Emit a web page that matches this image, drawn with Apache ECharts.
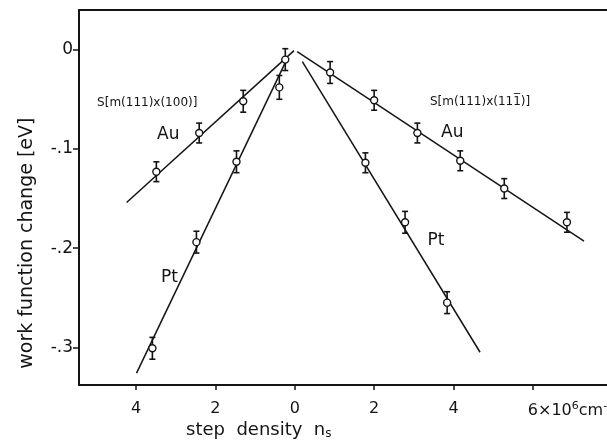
<!DOCTYPE html>
<html>
<head>
<meta charset="utf-8">
<script src="https://cdn.jsdelivr.net/npm/echarts@6/dist/echarts.min.js"></script>
<style>
  html, body { margin: 0; padding: 0; background: #fff; }
  #chart { width: 607px; height: 441px; }
</style>
</head>
<body>
<div id="chart"></div>
<script>
// step density (left side plotted as negative x), work function change [eV], error
const auLeft = [[-0.24, -0.010, 0.011], [-1.30, -0.052, 0.011], [-2.41, -0.084, 0.010], [-3.49, -0.123, 0.010]];
const ptLeft = [[-0.39, -0.038, 0.012], [-1.47, -0.113, 0.011], [-2.48, -0.194, 0.011], [-3.59, -0.301, 0.011]];
const auRight = [[0.89, -0.023, 0.011], [2.00, -0.051, 0.010], [3.09, -0.084, 0.010], [4.17, -0.112, 0.010], [5.28, -0.140, 0.010], [6.86, -0.174, 0.010]];
const ptRight = [[1.78, -0.114, 0.010], [2.78, -0.174, 0.011], [3.84, -0.255, 0.011]];

// fitted straight lines, end points
const auLeftFit = [[-4.24, -0.154], [-0.02, -0.001]];
const ptLeftFit = [[-3.99, -0.326], [-0.18, -0.008]];
const auRightFit = [[0.06, -0.002], [7.29, -0.193]];
const ptRightFit = [[0.19, -0.012], [4.67, -0.305]];

const xTicks = [-4, -2, 0, 2, 4, 6];
const yTicks = [0, -0.1, -0.2, -0.3];
const yTickLabels = ['0', '-.1', '-.2', '-.3'];

// annotations: [x, y, text]
const notes = [
  [-3.72, -0.054, '{s|S[m(111)x(100)]}'],
  [-3.19, -0.086, '{b|Au}'],
  [-3.16, -0.230, '{b|Pt}'],
  [4.67, -0.053, '{s|S[m(111)x(111\u0305)]}'],
  [3.97, -0.084, '{b|Au}'],
  [3.56, -0.192, '{b|Pt}']
];

const ink = '#141414';
const font = 'DejaVu Sans';

function errorBars(data) {
  return {
    type: 'custom',
    data: data,
    z: 3,
    renderItem: function (params, api) {
      const x = api.value(0), y = api.value(1), e = api.value(2);
      const top = api.coord([x, y + e]);
      const bot = api.coord([x, y - e]);
      const hw = 3;
      const st = { stroke: ink, lineWidth: 1.6 };
      return {
        type: 'group',
        children: [
          { type: 'line', shape: { x1: top[0], y1: top[1], x2: bot[0], y2: bot[1] }, style: st },
          { type: 'line', shape: { x1: top[0] - hw, y1: top[1], x2: top[0] + hw, y2: top[1] }, style: st },
          { type: 'line', shape: { x1: bot[0] - hw, y1: bot[1], x2: bot[0] + hw, y2: bot[1] }, style: st }
        ]
      };
    }
  };
}

function points(data) {
  return {
    type: 'scatter',
    data: data.map(d => [d[0], d[1]]),
    symbol: 'circle',
    symbolSize: 7,
    z: 4,
    itemStyle: { color: '#fff', borderColor: ink, borderWidth: 1.4, opacity: 1 }
  };
}

function fitLine(data) {
  return {
    type: 'line',
    data: data,
    showSymbol: false,
    z: 2,
    lineStyle: { color: ink, width: 1.5 }
  };
}

const chart = echarts.init(document.getElementById('chart'), null, { renderer: 'canvas' });

chart.setOption({
  animation: false,
  grid: { left: 79, right: 0, top: 10, bottom: 56 },
  xAxis: [{
    type: 'value',
    min: -5.44,
    max: 7.87,
    axisLine: { onZero: false, lineStyle: { color: ink, width: 2 } },
    axisTick: { customValues: xTicks, length: 5, lineStyle: { color: ink, width: 1.5 } },
    axisLabel: {
      customValues: xTicks,
      margin: 16,
      color: ink,
      fontFamily: font,
      fontSize: 16,
      formatter: v => (v === 6 ? '' : String(Math.abs(v)))
    },
    splitLine: { show: false }
  }, {
    type: 'value',
    position: 'top',
    min: -5.44,
    max: 7.87,
    axisLine: { show: true, onZero: false, lineStyle: { color: ink, width: 2 } },
    axisTick: { show: false },
    axisLabel: { show: false },
    splitLine: { show: false }
  }],
  yAxis: {
    type: 'value',
    min: -0.338,
    max: 0.04,
    axisLine: { show: true, onZero: false, lineStyle: { color: ink, width: 2 } },
    axisTick: { customValues: yTicks, length: 6, lineStyle: { color: ink, width: 1.5 } },
    axisLabel: {
      customValues: yTicks,
      margin: 6,
      color: ink,
      fontFamily: font,
      fontSize: 17,
      formatter: v => {
        const i = yTicks.findIndex(t => Math.abs(t - v) < 1e-6);
        return i >= 0 ? yTickLabels[i] : '';
      }
    },
    splitLine: { show: false }
  },
  series: [
    fitLine(auLeftFit), fitLine(ptLeftFit), fitLine(auRightFit), fitLine(ptRightFit),
    errorBars(auLeft), errorBars(ptLeft), errorBars(auRight), errorBars(ptRight),
    points(auLeft), points(ptLeft), points(auRight), points(ptRight),
    {
      type: 'scatter',
      data: notes.map(n => [n[0], n[1], n[2]]),
      symbolSize: 0,
      z: 5,
      itemStyle: { opacity: 1, color: 'transparent' },
      label: {
        show: true,
        position: 'inside',
        color: ink,
        formatter: p => p.data[2],
        rich: {
          s: { fontFamily: font, fontSize: 12, color: ink },
          b: { fontFamily: font, fontSize: 17, color: ink }
        }
      }
    }
  ]
});

// axis titles and the unit label at 6
const p6 = chart.convertToPixel({ xAxisIndex: 0 }, 6);
const yAxisMid = chart.convertToPixel({ yAxisIndex: 0 }, -0.195);
chart.setOption({
  graphic: [
    {
      type: 'text',
      left: p6 - 5,
      top: 401,
      style: {
        text: '6×10{sup|6}cm{sup|-1}',
        fill: ink,
        font: '16px ' + font,
        rich: { sup: { fontSize: 11, verticalAlign: 'top', padding: [0, 0, 8, 0], fontFamily: font, fill: ink } }
      }
    },
    {
      type: 'text',
      left: 186,
      top: 421,
      style: {
        text: 'step  density  n{sub|s}',
        fill: ink,
        font: '18px ' + font,
        rich: { sub: { fontSize: 12, padding: [7, 0, 0, 0], fontFamily: font, fill: ink } }
      }
    },
    {
      type: 'text',
      x: 27,
      y: yAxisMid,
      rotation: Math.PI / 2,
      style: {
        text: 'work function change [eV]',
        fill: ink,
        font: '19px ' + font,
        textAlign: 'center',
        textVerticalAlign: 'middle'
      }
    }
  ]
});
</script>
</body>
</html>
